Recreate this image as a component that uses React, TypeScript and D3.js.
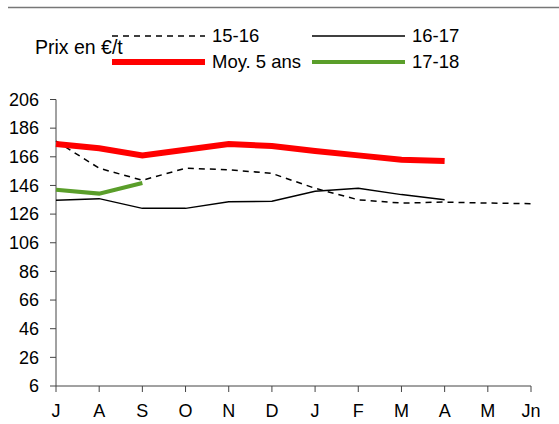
import React from "react";
import * as d3 from "d3";

const months = ["J", "A", "S", "O", "N", "D", "J", "F", "M", "A", "M", "Jn"];
const yTicks = [6, 26, 46, 66, 86, 106, 126, 146, 166, 186, 206];
const s1516 = [177, 158, 149.6, 158, 157, 154.4, 144, 136, 133.7, 134.4, 133.7, 133.3];
const s1617 = [135.6, 136.8, 130, 130, 134.7, 134.9, 141.9, 144, 139.6, 136.1];
const moy5 = [175, 172, 167, 170.9, 175, 173.5, 170, 167, 164, 163];
const s1718 = [143, 140.3, 147.7];

const W = 559, H = 424;
const x0 = 56, x1 = 531, yTop = 99.5, yBot = 386;

export default function App() {
  const x = d3.scaleLinear().domain([0, months.length - 1]).range([x0, x1]);
  const y = d3.scaleLinear().domain([6, 206]).range([yBot, yTop]);
  const line = d3.line<number>().x((_, i) => x(i)).y((d) => y(d));
  const font = "Liberation Sans, Arial, sans-serif";
  return (
    <svg width={W} height={H} style={{ position: "absolute", left: 0, top: 0 }} fontFamily={font}>
      <rect width={W} height={H} fill="#fff" />
      <line x1={8} x2={W} y1={7.5} y2={7.5} stroke="#777" strokeWidth={1.5} />
      {/* axes */}
      <line x1={x0} x2={x0} y1={yTop} y2={yBot} stroke="#444" strokeWidth={1} />
      <line x1={x0} x2={x1} y1={yBot} y2={yBot} stroke="#444" strokeWidth={1} />
      {yTicks.map((t) => (
        <g key={t}>
          <line x1={x0 - 6} x2={x0} y1={y(t)} y2={y(t)} stroke="#444" />
          <text x={x0 - 17} y={y(t)} dy="0.35em" textAnchor="end" fontSize={18} fill="#000">{t}</text>
        </g>
      ))}
      {months.map((m, i) => (
        <g key={i}>
          <line x1={x(i)} x2={x(i)} y1={yBot} y2={yBot + 6} stroke="#444" />
          <text x={x(i)} y={yBot + 31} textAnchor="middle" fontSize={18} fill="#000">{m}</text>
        </g>
      ))}
      {/* series */}
      <path d={line(s1617) || ""} fill="none" stroke="#000" strokeWidth={1.5} />
      <path d={line(s1516) || ""} fill="none" stroke="#000" strokeWidth={1.5} strokeDasharray="6,5" />
      <path d={line(moy5) || ""} fill="none" stroke="#ff0000" strokeWidth={6} />
      <path d={line(s1718) || ""} fill="none" stroke="#5a9e2a" strokeWidth={4} />
      {/* legend */}
      <text x={35} y={54} fontSize={19.5} fill="#000">Prix en €/t</text>
      <line x1={112} x2={205} y1={36} y2={36} stroke="#000" strokeWidth={1.5} strokeDasharray="6,5" />
      <text x={212} y={42} fontSize={18.5} fill="#000">15-16</text>
      <line x1={312} x2={405} y1={36} y2={36} stroke="#000" strokeWidth={1.5} />
      <text x={412} y={42} fontSize={18.5} fill="#000">16-17</text>
      <line x1={112} x2={205} y1={62} y2={62} stroke="#ff0000" strokeWidth={6} />
      <text x={212} y={68} fontSize={18.5} fill="#000">Moy. 5 ans</text>
      <line x1={312} x2={405} y1={62} y2={62} stroke="#5a9e2a" strokeWidth={4} />
      <text x={412} y={68} fontSize={18.5} fill="#000">17-18</text>
    </svg>
  );
}
